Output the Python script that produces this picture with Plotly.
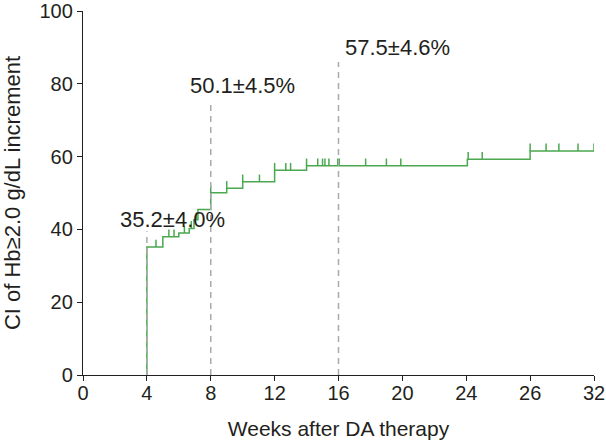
import plotly.graph_objects as go

# step curve (weeks, cumulative incidence %)
step_weeks = [4.0, 4.0, 5.0, 6.0, 6.65, 6.95, 7.2, 8.0, 9.0, 10.0, 12.0, 14.0, 24.07, 28.0, 32.0]
step_values = [0.0, 35.2, 38.0, 39.0, 40.3, 42.7, 45.5, 50.1, 51.3, 53.1, 56.3, 57.5, 59.3, 61.6, 61.6]

# censored observations (weeks)
censor_weeks = [4.57, 5.38, 5.7, 6.35, 6.78, 7.1, 8.0, 9.0, 10.0, 11.05, 12.0, 12.7, 13.0,
                14.0, 14.7, 15.0, 15.15, 15.4, 15.95, 16.05, 17.7, 19.0, 19.9,
                24.12, 25.0, 28.0, 29.0, 29.8, 31.0, 32.0]

# milestone guides and labels
milestone_weeks = [4, 8, 16]
milestone_tops = [39.5, 75.5, 86.0]
milestone_labels = ["35.2±4.0%", "50.1±4.5%", "57.5±4.6%"]
label_x = [5.6, 10.0, 19.7]
label_y = [42.8, 79.6, 90.0]

x_tickvals = [0, 4, 8, 12, 16, 20, 24, 28, 32]
x_ticktext = ["0", "4", "8", "12", "16", "20", "24", "26", "32"]
y_tickvals = [0, 20, 40, 60, 80, 100]

GREEN = "#4aa84f"
INK = "#231f20"
FONT = "Liberation Sans, Arial, sans-serif"


def value_at(t):
    v = step_values[0]
    for w, val in zip(step_weeks, step_values):
        if w <= t + 1e-9:
            v = val
    return v


fig = go.Figure()

fig.add_trace(go.Scatter(
    x=step_weeks, y=step_values, mode="lines", line_shape="hv",
    line=dict(color=GREEN, width=1.5), hoverinfo="skip", showlegend=False,
))

fig.add_trace(go.Scatter(
    x=censor_weeks, y=[value_at(t) for t in censor_weeks], mode="markers",
    marker=dict(size=0.1, color=GREEN, opacity=0),
    error_y=dict(type="constant", value=2.0, valueminus=0, symmetric=False,
                 color=GREEN, thickness=1.5, width=0),
    hoverinfo="skip", showlegend=False, cliponaxis=False,
))

for w, top in zip(milestone_weeks, milestone_tops):
    fig.add_shape(type="line", x0=w, x1=w, y0=0, y1=top, xref="x", yref="y",
                  line=dict(color="#aaaaaa", width=1.5, dash="6px,5px"))

for lx, ly, txt in zip(label_x, label_y, milestone_labels):
    fig.add_annotation(x=lx, y=ly, text=txt, showarrow=False, xref="x", yref="y",
                       font=dict(family=FONT, size=22, color=INK))

axis_common = dict(
    showline=True, linecolor=INK, linewidth=1.3, ticks="outside",
    ticklen=5, tickwidth=1.2, tickcolor=INK, showgrid=False, zeroline=False,
    tickfont=dict(family=FONT, size=20, color=INK), ticklabeloverflow="allow",
    automargin=False,
)

fig.update_xaxes(range=[0, 32], tickvals=x_tickvals, ticktext=x_ticktext,
                 ticklabelstandoff=-5,
                 title_text="Weeks after DA therapy", title_standoff=18,
                 title_font=dict(family=FONT, size=21, color=INK), **axis_common)
fig.update_yaxes(range=[0, 100.05], tickvals=y_tickvals,
                 title_text="CI of Hb≥2.0 g/dL increment", title_standoff=22,
                 title_font=dict(family=FONT, size=22, color=INK), **axis_common)

fig.update_layout(
    width=606, height=446,
    margin=dict(l=83, r=12, t=11, b=71),
    plot_bgcolor="white", paper_bgcolor="white",
    showlegend=False,
)

fig.write_html("out.html", config={"displayModeBar": False},
               post_script="document.body.style.margin='0';")
